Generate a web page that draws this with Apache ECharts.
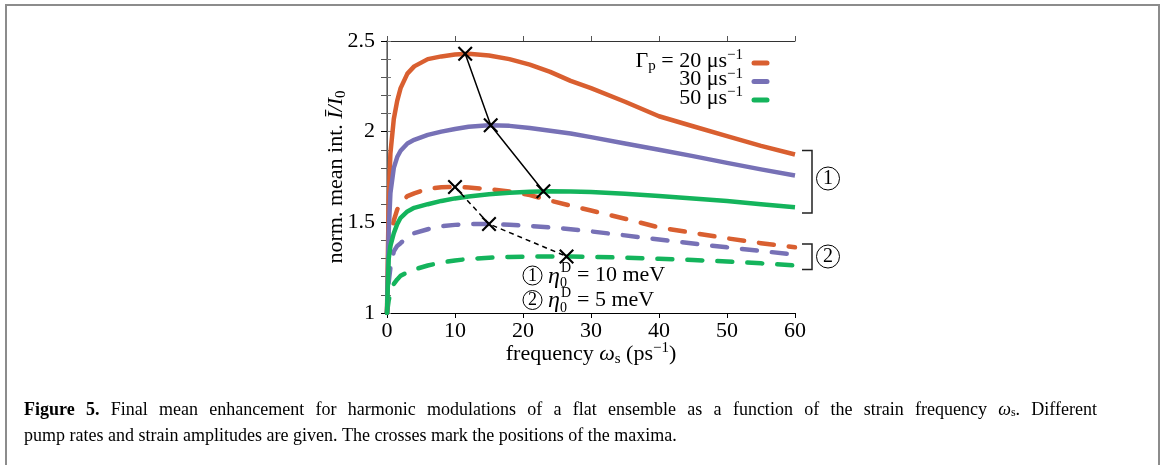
<!DOCTYPE html>
<html>
<head>
<meta charset="utf-8">
<script src="https://cdn.jsdelivr.net/npm/echarts@6/dist/echarts.min.js"></script>
<style>
html, body { margin: 0; padding: 0; background: #fff; }
#chart { width: 1168px; height: 465px; }
</style>
</head>
<body>
<div id="chart"></div>
<script>
// frequency omega_s (ps^-1), shared by every curve
const freq = [0, 0.25, 0.5, 1, 1.5, 2, 3, 4, 6, 8, 10, 12, 15, 18, 21, 24, 27, 30, 35, 40, 45, 50, 55, 60];

// eta = 10 meV (solid)
const g20_e10 = [1, 1.62, 1.88, 2.07, 2.17, 2.24, 2.32, 2.36, 2.40, 2.415, 2.425, 2.43, 2.42, 2.40, 2.37, 2.33, 2.28, 2.24, 2.165, 2.085, 2.03, 1.975, 1.922, 1.874];
const g30_e10 = [1, 1.45, 1.66, 1.80, 1.86, 1.895, 1.935, 1.955, 1.982, 2.0, 2.015, 2.027, 2.035, 2.032, 2.02, 2.005, 1.99, 1.97, 1.935, 1.90, 1.865, 1.828, 1.792, 1.758];
const g50_e10 = [1, 1.30, 1.37, 1.44, 1.49, 1.525, 1.56, 1.58, 1.60, 1.618, 1.632, 1.642, 1.655, 1.663, 1.669, 1.671, 1.67, 1.667, 1.657, 1.645, 1.632, 1.617, 1.60, 1.583];

// eta = 5 meV (dashed)
const g20_e5 = [1, 1.28, 1.40, 1.51, 1.57, 1.605, 1.645, 1.66, 1.685, 1.693, 1.695, 1.692, 1.683, 1.67, 1.65, 1.62, 1.592, 1.565, 1.52, 1.472, 1.442, 1.412, 1.385, 1.362];
const g30_e5 = [1, 1.17, 1.25, 1.34, 1.37, 1.385, 1.42, 1.44, 1.462, 1.478, 1.486, 1.49, 1.491, 1.487, 1.48, 1.472, 1.462, 1.45, 1.428, 1.405, 1.383, 1.362, 1.342, 1.322];
const g50_e5 = [1, 1.07, 1.11, 1.16, 1.185, 1.205, 1.225, 1.24, 1.262, 1.278, 1.29, 1.298, 1.305, 1.309, 1.311, 1.312, 1.312, 1.31, 1.305, 1.299, 1.292, 1.284, 1.274, 1.262];

// positions of the maxima (crosses)
const maxFreqE10 = [11.5, 15.25, 23.0];
const maxValE10 = [2.43, 2.035, 1.671];
const maxFreqE5 = [10, 15, 26.4];
const maxValE5 = [1.695, 1.491, 1.312];

const xTicks = [0, 10, 20, 30, 40, 50, 60];
const yTicks = [1, 1.5, 2, 2.5];

const colOrange = '#d95f30';
const colPurple = '#7771b6';
const colGreen = '#14b45c';
const serif = 'Liberation Serif';
const FS = 22;

const pairs = (xs, ys) => xs.map((x, i) => [x, ys[i]]);
const crossPath = 'path://M0,1L1,0L5,4L9,0L10,1L6,5L10,9L9,10L5,6L1,10L0,9L4,5Z';

function curve(name, ys, color, dashed) {
    return {
        name: name,
        type: 'line',
        data: pairs(freq, ys),
        showSymbol: false,
        smooth: false,
        z: 2,
        lineStyle: {
            color: color,
            width: 4.5,
            join: 'round',
            type: dashed ? [15, 15] : 'solid',
            cap: dashed ? 'round' : 'butt'
        }
    };
}

function crosses(xs, ys, dashed) {
    return {
        type: 'line',
        data: pairs(xs, ys),
        symbol: crossPath,
        symbolSize: 15,
        showSymbol: true,
        z: 6,
        itemStyle: { color: '#000' },
        lineStyle: { color: '#000', width: 1.5, type: dashed ? [5, 4] : 'solid' }
    };
}

const baseText = { fontFamily: serif, fontSize: FS, color: '#000' };
const richSet = {
    t: { fontFamily: serif, fontSize: FS, lineHeight: 26 },
    i: { fontFamily: serif, fontSize: FS, lineHeight: 26, fontStyle: 'italic' },
    s: { fontFamily: serif, fontSize: 15, lineHeight: 16, verticalAlign: 'bottom' },
    u: { fontFamily: serif, fontSize: 15, lineHeight: 16, verticalAlign: 'top' }
};

let chartDom = document.getElementById('chart');
let myChart = echarts.init(chartDom);
let option;

// circled number: circle + digit
function circled(cx, cy, r, label, size) {
    return [
        { type: 'circle', shape: { cx: cx, cy: cy, r: r }, style: { fill: 'none', stroke: '#000', lineWidth: 1 } },
        { type: 'text', style: { text: label, x: cx, y: cy + 0.5, align: 'center', verticalAlign: 'middle', fontFamily: serif, fontSize: size, fill: '#000' } }
    ];
}

function legendRow(y, txt, color) {
    return [
        { type: 'text', style: { text: txt, x: 743, y: y, align: 'right', verticalAlign: 'middle', fontFamily: serif, fontSize: FS, fill: '#000', rich: richSet } },
        { type: 'line', shape: { x1: 754, y1: y + 2, x2: 767, y2: y + 2 }, style: { stroke: color, lineWidth: 5, lineCap: 'round' } }
    ];
}

function etaRow(y, label, rest) {
    return [].concat(
        circled(532.5, y, 9.5, label, 18),
        [
            { type: 'text', style: { text: 'η', x: 548, y: y + 1, verticalAlign: 'middle', fontFamily: serif, fontSize: 24, fontStyle: 'italic', fill: '#000' } },
            { type: 'text', style: { text: 'D', x: 561, y: y - 7, verticalAlign: 'middle', fontFamily: serif, fontSize: 14, fill: '#000' } },
            { type: 'text', style: { text: '0', x: 560, y: y + 8, verticalAlign: 'middle', fontFamily: serif, fontSize: 14, fill: '#000' } },
            { type: 'text', style: { text: rest, x: 577, y: y, verticalAlign: 'middle', fontFamily: serif, fontSize: FS, fill: '#000' } }
        ]
    );
}

function bracket(y1, y2) {
    return { type: 'polyline', shape: { points: [[802, y1], [812, y1], [812, y2], [802, y2]] }, style: { fill: 'none', stroke: '#222', lineWidth: 1.5 } };
}

// caption: first line is justified (spread to the right margin)
const capFont = 18;
const capRich = {
    b: { fontFamily: serif, fontSize: capFont, fontWeight: 'bold' },
    t: { fontFamily: serif, fontSize: capFont },
    i: { fontFamily: serif, fontSize: capFont, fontStyle: 'italic' },
    s: { fontFamily: serif, fontSize: 12, verticalAlign: 'bottom', lineHeight: 12 }
};
const capLine1 = [[['b', 'Figure']], [['b', '5.']]].concat(
    'Final mean enhancement for harmonic modulations of a flat ensemble as a function of the strain frequency'.split(' ').map(w => [['t', w]]),
    [[['i', 'ω'], ['s', 's'], ['t', '.']], [['t', 'Different']]]
);
const mctx = document.createElement('canvas').getContext('2d');
function tokWidth(tk) {
    const st = capRich[tk[0]];
    mctx.font = (st.fontStyle || '') + ' ' + (st.fontWeight || '') + ' ' + st.fontSize + 'px "' + serif + '"';
    return mctx.measureText(tk[1]).width;
}
const wordW = capLine1.map(w => w.reduce((a, tk) => a + tokWidth(tk), 0));
const totalW = wordW.reduce((a, b) => a + b, 0);
const gapW = (1097 - 24 - totalW) / (capLine1.length - 1);
let cx = 24;
const capGraphics = capLine1.map((w, k) => {
    const g = {
        type: 'text',
        style: {
            text: w.map(tk => '{' + tk[0] + '|' + tk[1] + '}').join(''),
            x: cx, y: 410, verticalAlign: 'middle', fontFamily: serif, fontSize: capFont, fill: '#000', rich: capRich
        }
    };
    cx += wordW[k] + gapW;
    return g;
});
capGraphics.push({
    type: 'text',
    style: {
        text: 'pump rates and strain amplitudes are given. The crosses mark the positions of the maxima.',
        x: 24, y: 436, verticalAlign: 'middle', fontFamily: serif, fontSize: capFont, fill: '#000'
    }
});

option = {
    animation: false,
    backgroundColor: '#fff',
    grid: { left: 387, top: 41, width: 408, height: 272 },
    xAxis: [
        {
            type: 'value', position: 'bottom', min: 0, max: 60, interval: 10,
            name: '{t|frequency }{i|ω}{s|s}{t| (ps}{u|−1}{t|)}',
            nameLocation: 'middle', nameGap: 28, nameMoveOverlap: false,
            nameTextStyle: Object.assign({ rich: richSet }, baseText),
            axisLine: { lineStyle: { color: '#000', width: 1 } },
            axisTick: { inside: false, length: 5, lineStyle: { color: '#000' } },
            axisLabel: Object.assign({ margin: 7, formatter: v => xTicks.includes(v) ? String(v) : '' }, baseText),
            splitLine: { show: false }
        },
        {
            type: 'value', position: 'top', min: 0, max: 60, interval: 10,
            axisLine: { lineStyle: { color: '#333', width: 1 } },
            axisTick: { inside: false, length: 5, lineStyle: { color: '#555' } },
            axisLabel: { show: false },
            splitLine: { show: false }
        }
    ],
    yAxis: [
        {
            type: 'value', position: 'left', min: 1, max: 2.5, interval: 0.5,
            name: '{t|norm. mean int. }{i|Ī/I}{s|0}',
            nameLocation: 'middle', nameGap: 38, nameMoveOverlap: false,
            nameTextStyle: Object.assign({ rich: richSet }, baseText),
            axisLine: { lineStyle: { color: '#000', width: 1 } },
            axisTick: { inside: false, length: 6, lineStyle: { color: '#000' } },
            minorTick: { show: true, splitNumber: 5, length: 6, lineStyle: { color: '#555' } },
            axisLabel: Object.assign({ margin: 12, formatter: v => yTicks.includes(v) ? String(v) : '' }, baseText),
            splitLine: { show: false }
        },
        {
            type: 'value', position: 'right', min: 1, max: 2.5, interval: 0.1,
            axisLine: { lineStyle: { color: '#777', width: 1.5 } },
            axisTick: { inside: false, length: 4, lineStyle: { color: '#777' } },
            axisLabel: { show: false },
            splitLine: { show: false }
        }
    ],
    series: [
        curve('Γp = 20, 5 meV', g20_e5, colOrange, true),
        curve('Γp = 30, 5 meV', g30_e5, colPurple, true),
        curve('Γp = 50, 5 meV', g50_e5, colGreen, true),
        curve('Γp = 20, 10 meV', g20_e10, colOrange, false),
        curve('Γp = 30, 10 meV', g30_e10, colPurple, false),
        curve('Γp = 50, 10 meV', g50_e10, colGreen, false),
        crosses(maxFreqE10, maxValE10, false),
        crosses(maxFreqE5, maxValE5, true)
    ],
    graphic: [].concat(
        [{ type: 'rect', shape: { x: 6, y: 5, width: 1153, height: 520 }, style: { fill: 'none', stroke: '#8c8c8c', lineWidth: 2 } }],
        legendRow(61, '{t|Γ}{s|p}{t| = 20 μs}{u|−1}', colOrange),
        legendRow(79.5, '{t|30 μs}{u|−1}', colPurple),
        legendRow(98, '{t|50 μs}{u|−1}', colGreen),
        etaRow(275.5, '1', '= 10 meV'),
        etaRow(300, '2', '= 5 meV'),
        [bracket(150.5, 213), bracket(244, 269.5)],
        circled(828, 178.5, 11.5, '1', 20),
        circled(828, 256.5, 11.5, '2', 20),
        capGraphics
    )
};

option && myChart.setOption(option);
</script>
</body>
</html>
